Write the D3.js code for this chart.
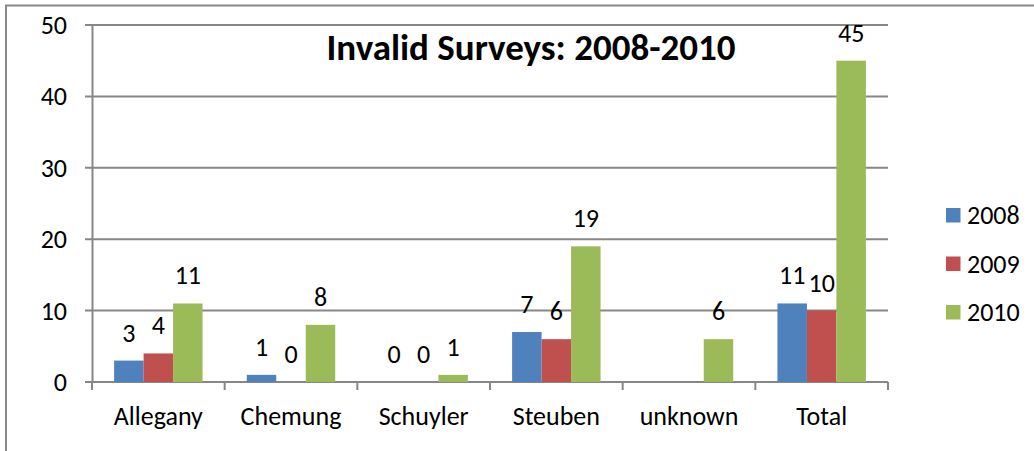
<!DOCTYPE html>
<html>
<head>
<meta charset="utf-8">
<script src="https://cdn.jsdelivr.net/npm/d3@7"></script>
<style>
    html, body { margin: 0; padding: 0; background: #fff; }
    svg { display: block; }
    text { font-family: Carlito, Calibri, 'Open Sans', sans-serif; fill: #000; }
</style>
</head>
<body>
<svg id="chart"></svg>
<script>
const categories = ['Allegany', 'Chemung', 'Schuyler', 'Steuben', 'unknown', 'Total'];
const seriesNames = ['2008', '2009', '2010'];
const values2008 = [3, 1, 0, 7, null, 11];
const values2009 = [4, 0, 0, 6, null, 10];
const values2010 = [11, 8, 1, 19, 6, 45];
const yTicks = [0, 10, 20, 30, 40, 50];
const colors = ['#4f81bd', '#c0504d', '#9bbb59'];

const fullWidth = 1034;
const fullHeight = 451;
const axisColor = '#878787';
const labelSize = 26;

const series = [values2008, values2009, values2010];

const svg = d3.select('#chart')
    .attr('width', fullWidth)
    .attr('height', fullHeight);

// chart area border, runs off the right and bottom of the picture
svg.append('rect')
    .attr('x', 6)
    .attr('y', 5.5)
    .attr('width', fullWidth + 20)
    .attr('height', fullHeight + 20)
    .attr('fill', 'none')
    .attr('stroke', '#888')
    .attr('stroke-width', 2);

const xScale = d3.scaleBand()
    .domain(categories)
    .range([92, 888]);

const xInner = d3.scaleBand()
    .domain(seriesNames)
    .range([0, xScale.bandwidth()])
    .paddingInner(0)
    .paddingOuter(0.75);

const yScale = d3.scaleLinear()
    .domain([0, 50])
    .range([382, 25]);

// gridlines with their left ticks
const grid = svg.append('g').attr('class', 'grid');
grid.selectAll('line')
    .data(yTicks)
    .enter().append('line')
    .attr('x1', 85)
    .attr('x2', 888)
    .attr('y1', d => yScale(d))
    .attr('y2', d => yScale(d))
    .attr('stroke', axisColor)
    .attr('stroke-width', 2);

const yAxis = d3.axisLeft(yScale)
    .tickValues(yTicks)
    .tickSize(0)
    .tickPadding(0);

const gYAxis = svg.append('g')
    .attr('class', 'axis axis--y')
    .attr('transform', 'translate(67, 0)')
    .call(yAxis);
gYAxis.select('.domain').remove();
gYAxis.selectAll('text')
    .attr('font-size', labelSize)
    .attr('font-family', null)
    .attr('dy', '0.33em');

// vertical axis line
svg.append('line')
    .attr('x1', 92.5)
    .attr('x2', 92.5)
    .attr('y1', yScale(50))
    .attr('y2', yScale(0))
    .attr('stroke', axisColor)
    .attr('stroke-width', 2);

// category boundary ticks
const boundaries = categories.map(c => xScale(c)).concat([xScale.range()[1]]);
svg.append('g')
    .selectAll('line')
    .data(boundaries)
    .enter().append('line')
    .attr('x1', d => d)
    .attr('x2', d => d)
    .attr('y1', yScale(0))
    .attr('y2', 390)
    .attr('stroke', axisColor)
    .attr('stroke-width', 2);

const xAxis = d3.axisBottom(xScale)
    .tickSize(0)
    .tickPadding(0);

const gXAxis = svg.append('g')
    .attr('class', 'axis axis--x')
    .attr('transform', 'translate(0, 425)')
    .call(xAxis);
gXAxis.select('.domain').remove();
gXAxis.selectAll('text')
    .attr('font-size', labelSize)
    .attr('font-family', null)
    .attr('dy', 0);

// bars
const data = [];
categories.forEach((cat, i) => {
    seriesNames.forEach((name, j) => {
        const v = series[j][i];
        if (v === null) return;
        data.push({cat, name, value: v, color: colors[j]});
    });
});

const barG = svg.append('g').attr('class', 'bars');
barG.selectAll('rect')
    .data(data)
    .enter().append('rect')
    .attr('x', d => xScale(d.cat) + xInner(d.name))
    .attr('y', d => yScale(d.value))
    .attr('width', xInner.bandwidth())
    .attr('height', d => yScale(0) - yScale(d.value))
    .attr('fill', d => d.color);

barG.selectAll('text')
    .data(data)
    .enter().append('text')
    .attr('x', d => xScale(d.cat) + xInner(d.name) + xInner.bandwidth() / 2)
    .attr('y', d => yScale(d.value) - 19)
    .attr('text-anchor', 'middle')
    .attr('font-size', labelSize)
    .text(d => d.value);

// title
svg.append('text')
    .attr('x', 531)
    .attr('y', 60)
    .attr('text-anchor', 'middle')
    .attr('font-size', 37)
    .attr('font-weight', 'bold')
    .text('Invalid Surveys: 2008-2010');

// legend
const legend = svg.append('g')
    .attr('class', 'legend')
    .selectAll('g')
    .data(seriesNames)
    .enter().append('g')
    .attr('transform', (d, i) => `translate(946, ${208 + i * 48.5})`);

legend.append('rect')
    .attr('width', 14.5)
    .attr('height', 14.5)
    .attr('fill', (d, i) => colors[i]);

legend.append('text')
    .attr('x', 21)
    .attr('y', 16)
    .attr('font-size', labelSize)
    .text(d => d);
</script>
</body>
</html>
